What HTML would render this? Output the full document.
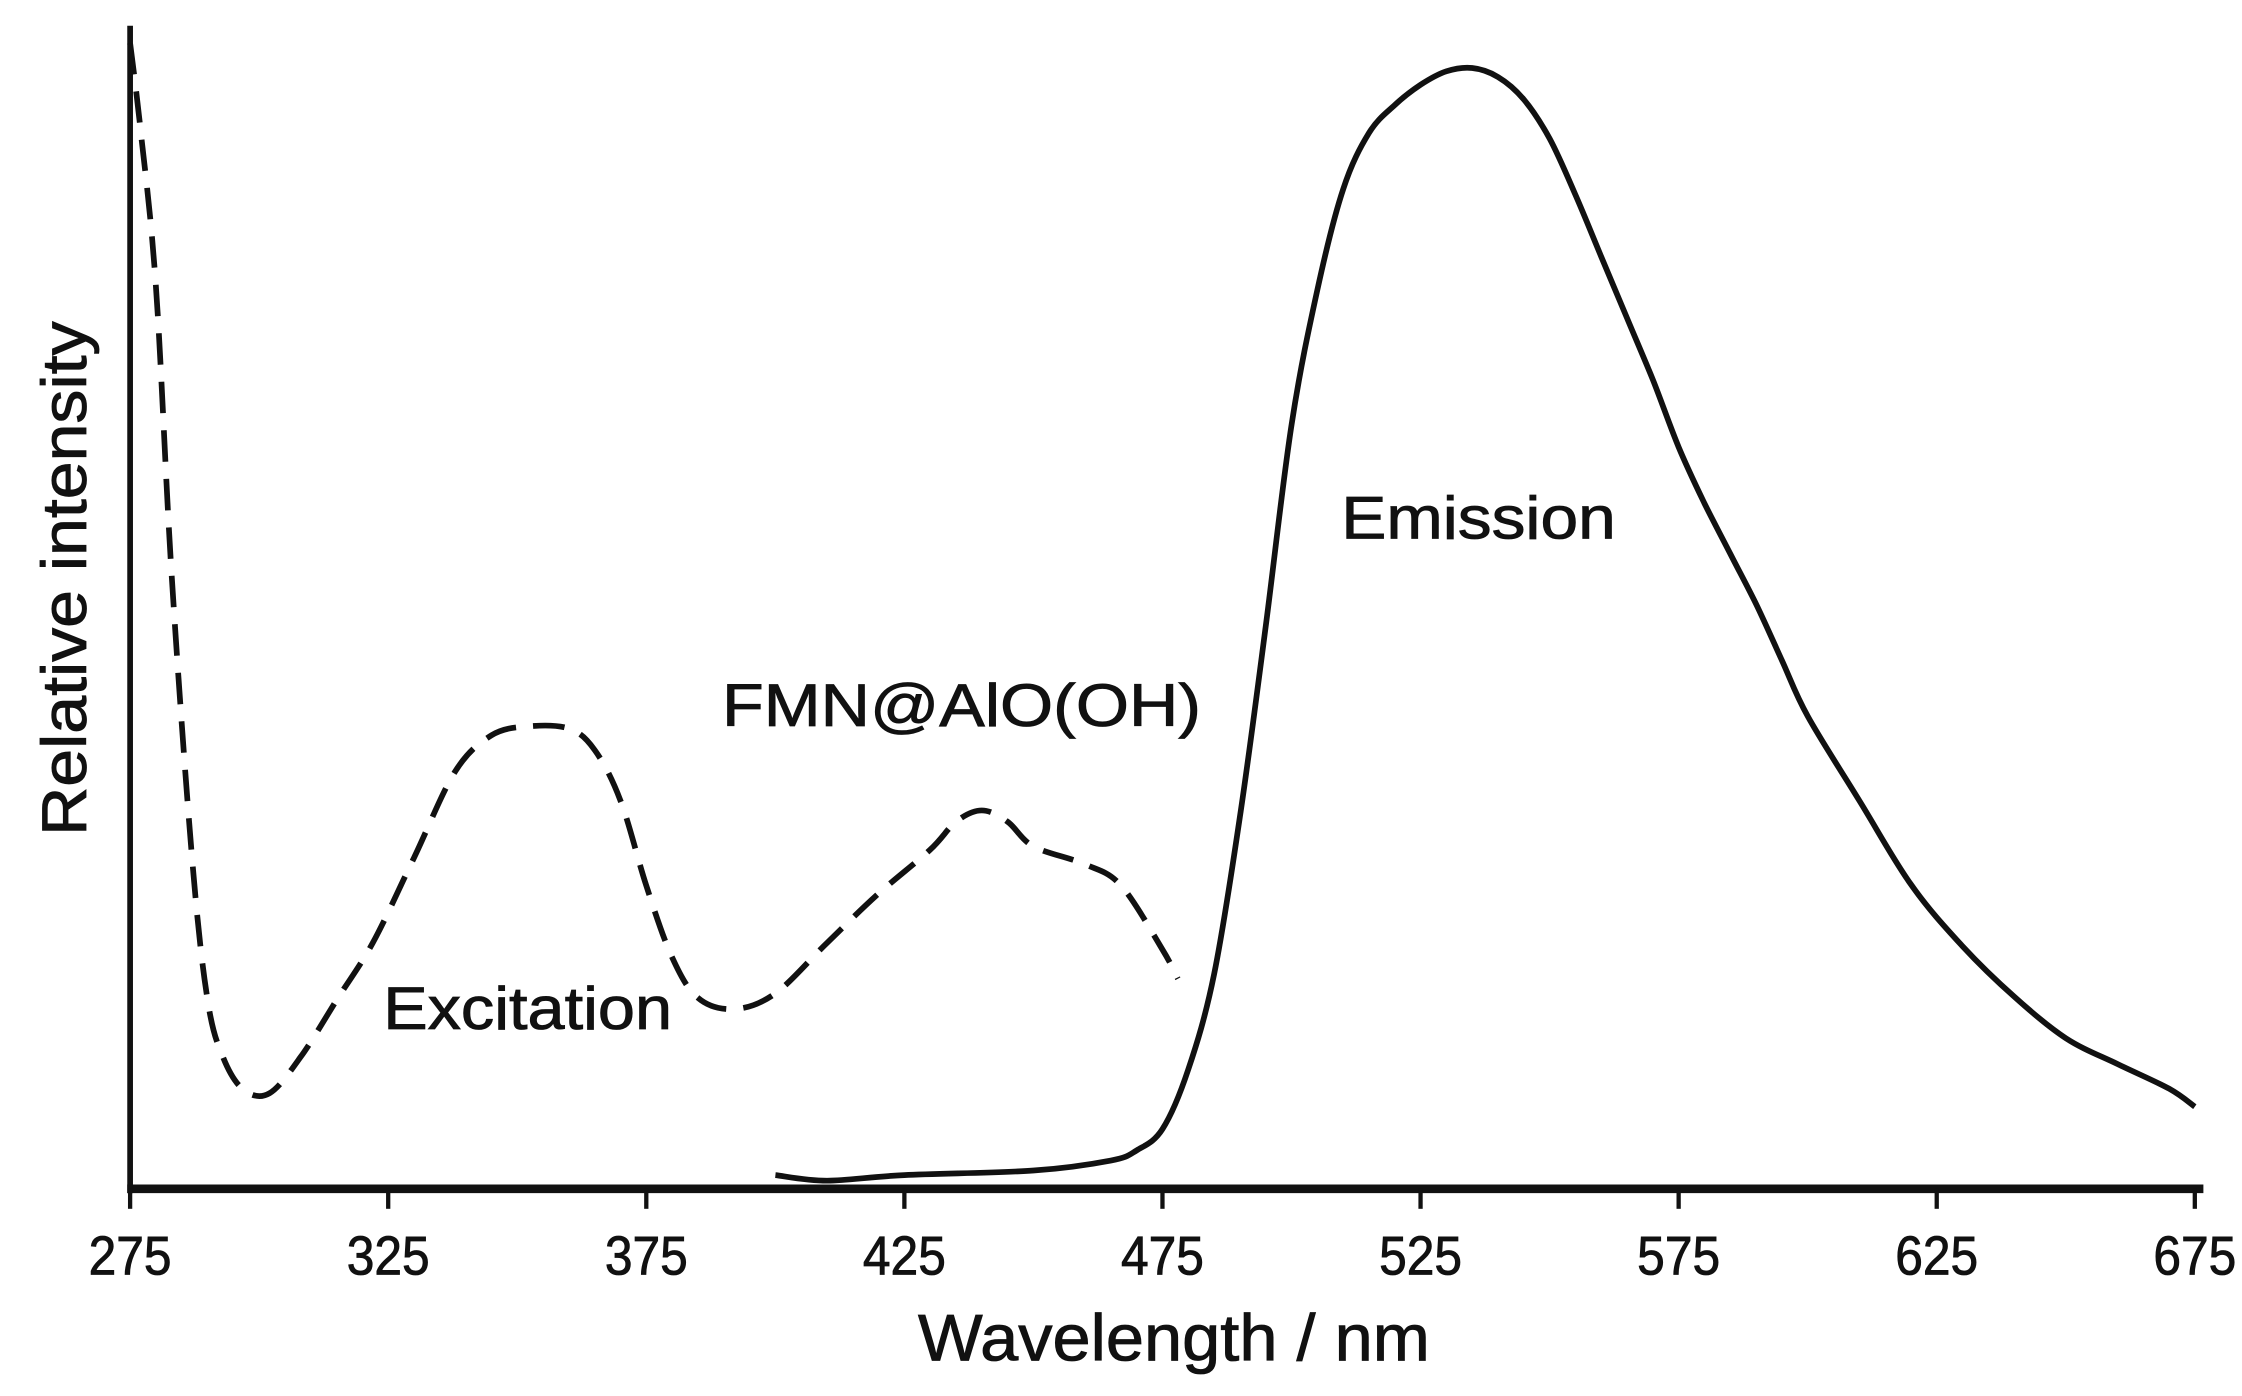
<!DOCTYPE html>
<html><head><meta charset="utf-8"><style>
html,body{margin:0;padding:0;background:#fff;}
svg{display:block;}
text{font-family:"Liberation Sans",Arial,sans-serif;fill:#111;stroke:#111;stroke-width:0.6;}
</style></head><body>
<svg id="chart" width="2242" height="1396" viewBox="0 0 1568 977" preserveAspectRatio="none" xmlns="http://www.w3.org/2000/svg">
<g id="axes"></g>
<path id="exc" fill="none" stroke="#111" stroke-width="4" stroke-dasharray="22,12"/>
<path id="em" fill="none" stroke="#111" stroke-width="4"/>
<text x="0" y="0" font-size="44" text-anchor="middle" textLength="360" lengthAdjust="spacingAndGlyphs" transform="translate(60,405) rotate(-90)">Relative intensity</text>
<text x="642" y="952" font-size="46" textLength="358" lengthAdjust="spacingAndGlyphs">Wavelength / nm</text>
<text x="938" y="377" font-size="42" textLength="192" lengthAdjust="spacingAndGlyphs">Emission</text>
<text x="505" y="508" font-size="42" textLength="335" lengthAdjust="spacingAndGlyphs">FMN@AlO(OH)</text>
<text x="268" y="720" font-size="42" textLength="202" lengthAdjust="spacingAndGlyphs">Excitation</text>
</svg>
<script>
const tickLabels = [275,325,375,425,475,525,575,625,675];
const emX = [400,410,425,450,465,470,475,480,485,490,495,500,505,510,515,520,525,530,535,540,545,550,555,560,565,570,575,580,585,590,595,600,610,620,630,640,650,660,670,675];
const emY = [1.1,0.6,1.1,1.5,2.4,3.3,5.2,10.5,19,33,50,68,80,89,94,96.5,98.3,99.5,99.8,99,97,93.5,88.5,83,77.5,72,66,61,56.5,52,47,42,34.5,27,21.5,17,13.3,11,8.8,7.2];
const exX = [275,277,280,283,287,290,293,297,302,308,315,322,330,338,345,352,360,365,370,375,380,385,392,400,410,420,430,435,440,445,450,460,467,475,478];
const exY = [102,94.4,80.4,54.9,29.4,16.7,11.6,8.7,8.4,11.6,16.7,21.8,29.4,37.1,40.3,41.1,40.9,39.0,34.5,26.9,20.5,16.9,15.9,17.3,21.8,26.2,30.1,32.6,33.6,32.6,30.4,28.8,26.9,21.2,18.6];
const sx = v => 91 + (v - 275) * (1535 - 91) / 400;
const sy = v => 831 - v * 7.85;
const ns = "http://www.w3.org/2000/svg";
const axes = document.getElementById('axes');
function mk(tag, attrs){const e=document.createElementNS(ns,tag);for(const k in attrs)e.setAttribute(k,attrs[k]);axes.appendChild(e);return e;}
const xl = mk('line',{x1:89,y1:832,x2:1541,y2:832,stroke:'#111','stroke-width':6});


const yl = mk('line',{x1:91,y1:18,x2:91,y2:835,stroke:'#111','stroke-width':4});


tickLabels.forEach(t=>{
  const l = mk('line',{x1:sx(t),y1:832,x2:sx(t),y2:846,stroke:'#111','stroke-width':3});
  
  
  const tx = mk('text',{x:sx(t),y:892,'font-size':38,'text-anchor':'middle',textLength:58,lengthAdjust:'spacingAndGlyphs'});
  tx.textContent = t;
  
  
});
function path(xs,ys){
  const p = xs.map((x,i)=>[sx(x),sy(ys[i])]);
  let d = 'M'+p[0][0].toFixed(1)+','+p[0][1].toFixed(1);
  for(let i=0;i<p.length-1;i++){
    const p0=p[Math.max(i-1,0)],p1=p[i],p2=p[i+1],p3=p[Math.min(i+2,p.length-1)];
    const c1=[p1[0]+(p2[0]-p0[0])/6,p1[1]+(p2[1]-p0[1])/6];
    const c2=[p2[0]-(p3[0]-p1[0])/6,p2[1]-(p3[1]-p1[1])/6];
    d+=' C'+c1.map(v=>v.toFixed(1)).join(',')+' '+c2.map(v=>v.toFixed(1)).join(',')+' '+p2.map(v=>v.toFixed(1)).join(',');
  }
  return d;
}
document.getElementById('em').setAttribute('d',path(emX,emY));
document.getElementById('exc').setAttribute('d',path(exX,exY));
</script>
</body></html>
